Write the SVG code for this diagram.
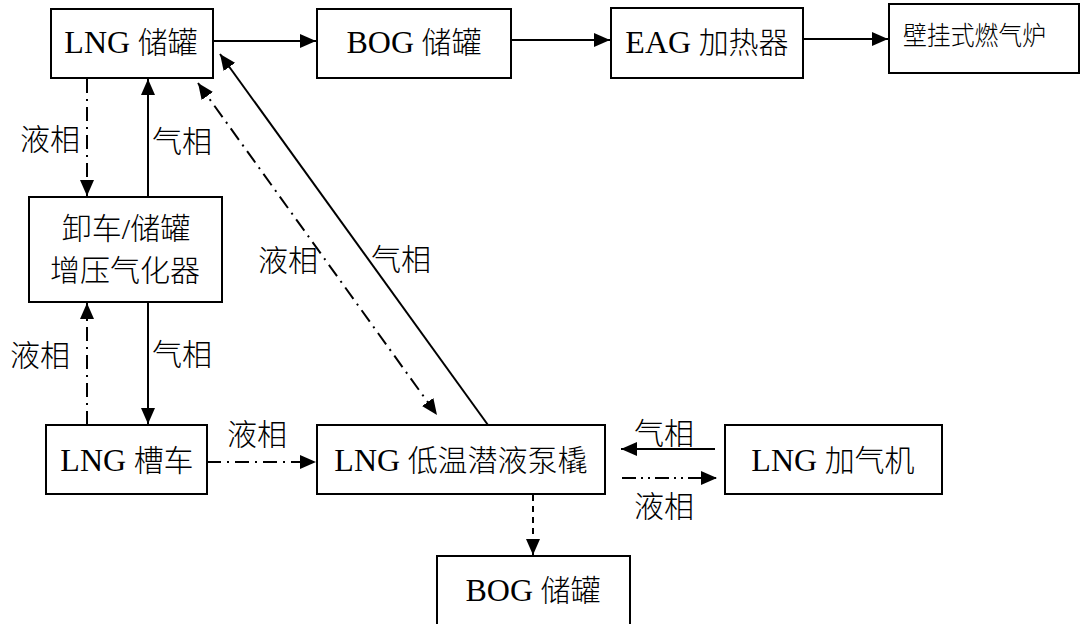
<svg xmlns="http://www.w3.org/2000/svg" width="1080" height="624" viewBox="0 0 1080 624">
<style>
.box{fill:#fff;stroke:#000;stroke-width:2}
.t{font-family:"Liberation Serif","Noto Sans CJK SC",serif;font-size:30px;font-weight:300;fill:#000;text-anchor:middle}
.l{font-size:32px}
.c{fill:none;stroke:#000;stroke-width:2}
.dd{stroke-dasharray:14 6 2 6}
.ddd{stroke-dasharray:14 5 2 5 2 5}
.dash{stroke-dasharray:6 5}
</style>
<defs>
<marker id="ah" viewBox="0 0 16 14" refX="16" refY="7" markerWidth="16" markerHeight="14" markerUnits="userSpaceOnUse" orient="auto-start-reverse">
<path d="M0,0 L16,7 L0,14 z" fill="#000"/>
</marker>
</defs>
<g id="n-lng-tank"><rect class="box" x="51" y="9" width="162" height="69"/><text class="t" x="131" y="53"><tspan class="l">LNG</tspan> 储罐</text></g>
<g id="n-bog-tank-top"><rect class="box" x="317" y="9" width="194" height="69"/><text class="t" x="414" y="53"><tspan class="l">BOG</tspan> 储罐</text></g>
<g id="n-eag"><rect class="box" x="611" y="8" width="192" height="70"/><text class="t" x="707" y="53"><tspan class="l">EAG</tspan> 加热器</text></g>
<g id="n-boiler"><rect class="box" x="889" y="4" width="190" height="69"/><text class="t" x="903" y="45" style="text-anchor:start;font-size:26px" textLength="143" lengthAdjust="spacingAndGlyphs">壁挂式燃气炉</text></g>
<g id="n-vaporizer"><rect class="box" x="29" y="197" width="193" height="105"/><text class="t" x="126" y="239">卸车/储罐</text><text class="t" x="125" y="281">增压气化器</text></g>
<g id="n-truck"><rect class="box" x="46" y="425" width="161" height="69"/><text class="t" x="127" y="471"><tspan class="l">LNG</tspan> 槽车</text></g>
<g id="n-pump"><rect class="box" x="317" y="425" width="288" height="69"/><text class="t" x="461" y="471"><tspan class="l">LNG</tspan> 低温潜液泵橇</text></g>
<g id="n-dispenser"><rect class="box" x="725" y="425" width="217" height="69"/><text class="t" x="833" y="471"><tspan class="l">LNG</tspan> 加气机</text></g>
<g id="n-bog-tank-bottom"><rect class="box" x="437" y="556" width="193" height="70"/><text class="t" x="533" y="601"><tspan class="l">BOG</tspan> 储罐</text></g>
<g id="connectors">
<path class="c" d="M214,41 L316,41" marker-end="url(#ah)"/>
<path class="c" d="M512,40 L610,40" marker-end="url(#ah)"/>
<path class="c" d="M804,39 L888,39" marker-end="url(#ah)"/>
<path class="c dd" d="M87,79 L87,196" marker-end="url(#ah)"/>
<path class="c" d="M148,197 L148,79" marker-end="url(#ah)"/>
<path class="c dd" d="M87,425 L87,303" marker-end="url(#ah)"/>
<path class="c" d="M148,303 L148,424" marker-end="url(#ah)"/>
<path class="c" d="M488,425 L220,54" marker-end="url(#ah)"/>
<path class="c dd" d="M198,83 L437,415" marker-start="url(#ah)" marker-end="url(#ah)"/>
<path class="c dd" d="M207,462 L316,462" marker-end="url(#ah)"/>
<path class="c" d="M715,449 L621,449" marker-end="url(#ah)"/>
<path class="c ddd" d="M622,478 L717,478" marker-end="url(#ah)"/>
<path class="c dash" d="M533,495 L533,555" marker-end="url(#ah)"/>
</g>
<g id="labels">
<text class="t" x="50" y="150">液相</text>
<text class="t" x="182" y="152">气相</text>
<text class="t" x="40" y="366">液相</text>
<text class="t" x="182" y="365">气相</text>
<text class="t" x="288" y="271">液相</text>
<text class="t" x="401" y="270">气相</text>
<text class="t" x="257" y="445">液相</text>
<text class="t" x="664" y="444">气相</text>
<text class="t" x="664" y="517">液相</text>
</g>
</svg>
